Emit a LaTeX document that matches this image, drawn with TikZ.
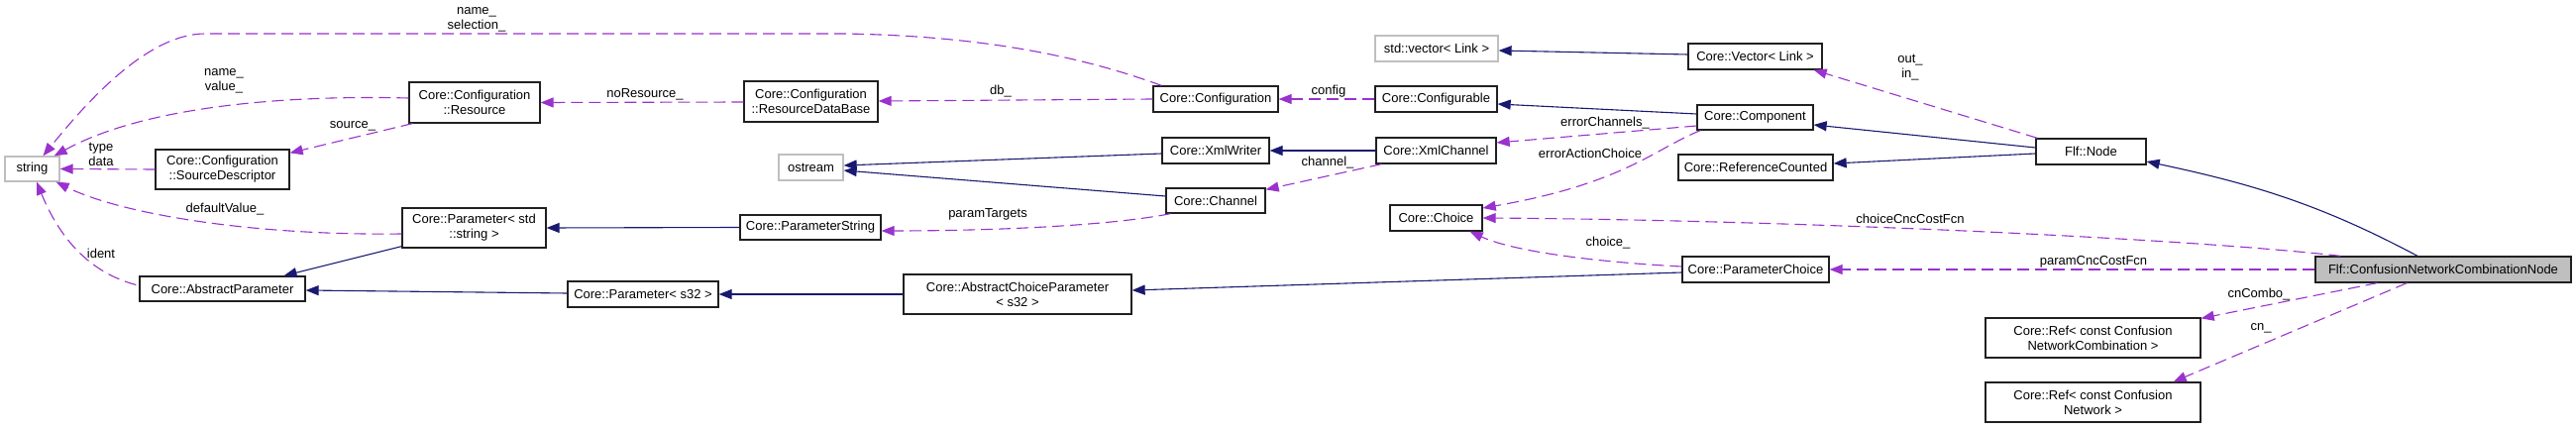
\documentclass[tikz,border=0pt]{standalone}
\usepackage{fontspec}
\setmainfont{Liberation Sans}
\usetikzlibrary{arrows.meta,calc}
\definecolor{purp}{HTML}{9A32CD}
\definecolor{navy}{HTML}{191970}
\definecolor{gbord}{HTML}{BFBFBF}
\definecolor{bord}{HTML}{202020}
\begin{document}
\begin{tikzpicture}[x=1pt,y=-1pt,
 box/.style={draw=bord,line width=1.3pt,inner sep=0pt,align=center,font=\fontsize{13}{15}\selectfont},
 ext/.style={box,draw=gbord},
 inh/.style={navy,line width=1.1pt,-{Triangle[length=13pt,width=10pt]}},
 use/.style={purp,line width=1.1pt,dash pattern=on 12pt off 6pt,-{Triangle[length=13pt,width=10pt]}},
 lbl/.style={font=\fontsize{13}{15}\selectfont,align=center,inner sep=0pt}]
\useasboundingbox (0,0) rectangle (2600,433);
\fill[white] (0,0) rectangle (2600,433);
% nodes
\node[ext,minimum width=55pt,minimum height=25pt] (str) at (32.5,170.5) {string};
\node[box,minimum width=135pt,minimum height=40pt] (sd) at (224.5,171) {Core::Configuration\\::SourceDescriptor};
\node[box,minimum width=132pt,minimum height=41pt] (res) at (479,103.5) {Core::Configuration\\::Resource};
\node[box,minimum width=145pt,minimum height=40pt] (pstd) at (478.5,230) {Core::Parameter< std\\::string >};
\node[box,minimum width=167pt,minimum height=25pt] (ap) at (224.5,291.5) {Core::AbstractParameter};
\node[box,minimum width=135pt,minimum height=41pt] (rdb) at (818.5,102.5) {Core::Configuration\\::ResourceDataBase};
\node[ext,minimum width=65pt,minimum height=26pt] (os) at (818.5,169) {ostream};
\node[box,minimum width=142pt,minimum height=25pt] (pstr) at (818,229.5) {Core::ParameterString};
\node[box,minimum width=152pt,minimum height=26pt] (ps32) at (649,297) {Core::Parameter< s32 >};
\node[box,minimum width=230pt,minimum height=40pt] (acp) at (1027,297) {Core::AbstractChoiceParameter\\< s32 >};
\node[box,minimum width=126pt,minimum height=26pt] (cfg) at (1227,100) {Core::Configuration};
\node[box,minimum width=123pt,minimum height=26pt] (cfb) at (1449.5,100) {Core::Configurable};
\node[ext,minimum width=124pt,minimum height=26pt] (svl) at (1450,49) {std::vector< Link >};
\node[box,minimum width=108pt,minimum height=26pt] (xw) at (1227,152) {Core::XmlWriter};
\node[box,minimum width=121pt,minimum height=26pt] (xc) at (1449.5,152) {Core::XmlChannel};
\node[box,minimum width=100pt,minimum height=25pt] (ch) at (1227,202.5) {Core::Channel};
\node[box,minimum width=93pt,minimum height=26pt] (cho) at (1449.5,220) {Core::Choice};
\node[box,minimum width=135pt,minimum height=26pt] (vl) at (1771.5,57) {Core::Vector< Link >};
\node[box,minimum width=117pt,minimum height=25pt] (comp) at (1771.5,118.5) {Core::Component};
\node[box,minimum width=156pt,minimum height=26pt] (rc) at (1772,169) {Core::ReferenceCounted};
\node[box,minimum width=111pt,minimum height=26pt] (fn) at (2110.5,153) {Flf::Node};
\node[box,minimum width=148pt,minimum height=26pt] (pc) at (1772,272) {Core::ParameterChoice};
\node[box,minimum width=217pt,minimum height=40pt] (rcnc) at (2112.5,341) {Core::Ref< const Confusion\\NetworkCombination >};
\node[box,minimum width=217pt,minimum height=40pt] (rcn) at (2112.5,406) {Core::Ref< const Confusion\\Network >};
\node[box,fill=gbord,minimum width=258pt,minimum height=26pt] (cnc) at (2466,272) {Flf::ConfusionNetworkCombinationNode};
% inheritance edges
\draw[inh] ($(pstd.south west)+(0,-2)$) -- ($(ap.north)+(62,0)$);
\draw[inh] ($(ps32.west)+(0,-1)$) -- ($(ap.east)+(0,1.5)$);
\draw[inh] ($(xw.west)+(0,3)$) -- ($(os.east)+(0,-2)$);
\draw[inh] ($(ch.west)+(0,-4.5)$) -- ($(os.east)+(0,3)$);
\draw[inh] (pstr.west) -- ($(pstd.east)+(0,0)$);
\draw[inh] (acp.west) -- (ps32.east);
\draw[inh] (xc.west) -- (xw.east);
\draw[inh] ($(vl.west)+(0,-2)$) -- ($(svl.east)+(0,2)$);
\draw[inh] ($(comp.west)+(0,-3.5)$) -- ($(cfb.east)+(0,5)$);
\draw[inh] ($(fn.west)+(0,-4)$) -- ($(comp.east)+(0,7.5)$);
\draw[inh] ($(fn.west)+(0,2)$) -- ($(rc.east)+(0,-4)$);
\draw[inh] ($(pc.west)+(0,3)$) -- ($(acp.east)+(0,-4)$);
\draw[inh] ($(cnc.north)+(-26,0)$) .. controls (2340,205) and (2270,185) .. ($(fn.east)+(0,10)$);
% usage edges
\draw[use] ($(cfg.north west)+(9,0)$) .. controls (1100,60) and (1000,36) .. (850,34) -- (207,34) .. controls (150,34) and (90,100) .. ($(str.north)+(11,0)$);
\draw[use] ($(res.west)+(0,-4.5)$) .. controls (300,96) and (150,105) .. ($(str.north east)+(-6,0)$);
\draw[use] ($(res.south west)+(4,0)$) -- ($(sd.north east)+(0,4)$);
\draw[use] (sd.west) -- (str.east);
\draw[use] ($(pstd.west)+(0,6)$) .. controls (250,238) and (120,215) .. ($(str.south east)+(-4,0)$);
\draw[use] ($(ap.west)+(-3,-4)$) .. controls (90,275) and (60,240) .. ($(str.south)+(4.5,0)$);
\draw[use] ($(rdb.west)+(0,0.5)$) -- (res.east);
\draw[use] (cfg.west) -- ($(rdb.east)+(0,-0.5)$);
\draw[use] ($(ch.south west)+(5,0)$) .. controls (1120,228) and (1000,233) .. ($(pstr.east)+(0,3.5)$);
\draw[use] (cfb.west) -- (cfg.east);
\draw[use] ($(xc.south west)+(6,0)$) -- ($(ch.north east)+(0,2)$);
\draw[use] ($(comp.west)+(0,8.5)$) -- ($(xc.east)+(0,-8)$);
\draw[use] ($(comp.south west)+(4,0)$) .. controls (1670,150) and (1640,185) .. ($(cho.east)+(0,-10)$);
\draw[use] ($(fn.north west)+(2,0)$) -- ($(vl.south east)+(-9,0)$);
\draw[use] ($(cnc.north west)+(26,0)$) .. controls (2200,240) and (1800,222) .. (cho.east);
\draw[use] ($(pc.west)+(0,-3)$) .. controls (1620,265) and (1530,255) .. ($(cho.south east)+(-13,0)$);
\draw[use] (cnc.west) -- (pc.east);
\draw[use] ($(cnc.south west)+(63,0)$) -- ($(rcnc.north east)+(0,1)$);
\draw[use] ($(cnc.south west)+(93,0)$) -- ($(rcn.north east)+(-28,0)$);
% labels
\node[lbl] (l1) at (481,19.5) {name\_\\selection\_};
\node[lbl] (l2) at (226,82) {name\_\\value\_};
\node[lbl] (l3) at (356,127) {source\_};
\node[lbl] (l4) at (102,155.5) {type\\data};
\node[lbl] (l5) at (227,211) {defaultValue\_};
\node[lbl] (l6) at (102,256) {ident};
\node[lbl] (l7) at (651,95) {noResource\_};
\node[lbl] (l8) at (1010,92) {db\_};
\node[lbl] (l9) at (997,216) {paramTargets};
\node[lbl] (l10) at (1341,92) {config};
\node[lbl] (l11) at (1340,164) {channel\_};
\node[lbl] (l12) at (1620,124) {errorChannels\_};
\node[lbl] (l13) at (1605,155) {errorActionChoice};
\node[lbl] (l14) at (1928,68.5) {out\_\\in\_};
\node[lbl] (l15) at (1928,221) {choiceCncCostFcn};
\node[lbl] (l16) at (1623,245) {choice\_};
\node[lbl] (l17) at (2113,264) {paramCncCostFcn};
\node[lbl] (l18) at (2280,297) {cnCombo\_};
\node[lbl] (l19) at (2282,331) {cn\_};
\end{tikzpicture}
\end{document}
